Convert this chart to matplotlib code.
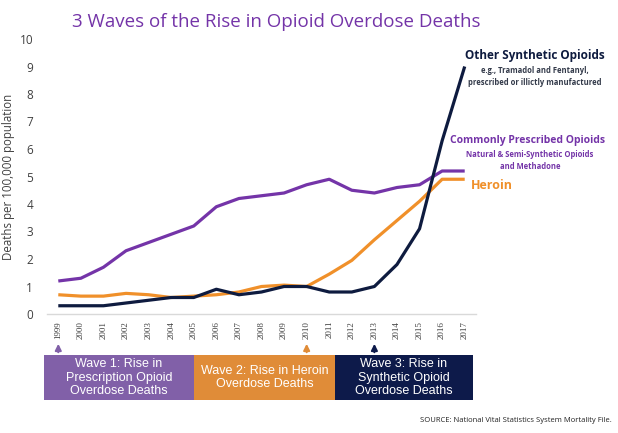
import matplotlib
matplotlib.use("Agg")
import matplotlib.pyplot as plt
from matplotlib.patches import Rectangle, FancyArrowPatch

years = list(range(1999, 2018))
prescribed = [1.2, 1.3, 1.7, 2.3, 2.6, 2.9, 3.2, 3.9, 4.2, 4.3, 4.4, 4.7, 4.9, 4.5, 4.4, 4.6, 4.7, 5.2, 5.2]
heroin = [0.7, 0.65, 0.65, 0.75, 0.7, 0.6, 0.65, 0.7, 0.8, 1.0, 1.05, 1.0, 1.45, 1.95, 2.7, 3.4, 4.1, 4.9, 4.9]
synthetic = [0.3, 0.3, 0.3, 0.4, 0.5, 0.6, 0.6, 0.9, 0.7, 0.8, 1.0, 1.0, 0.8, 0.8, 1.0, 1.8, 3.1, 6.3, 9.0]

wave_labels = ["Wave 1: Rise in\nPrescription Opioid\nOverdose Deaths",
               "Wave 2: Rise in Heroin\nOverdose Deaths",
               "Wave 3: Rise in\nSynthetic Opioid\nOverdose Deaths"]
wave_years = [1999, 2010, 2013]

PURPLE = "#7434A8"
ORANGE = "#F0902A"
NAVY = "#0E1B3F"
BOX_PURPLE = "#8160A8"
BOX_ORANGE = "#E08C38"
BOX_NAVY = "#0D1A4A"

W, H = 618, 433
fig = plt.figure(figsize=(W / 100, H / 100), dpi=100)
fig.patch.set_facecolor("white")

ax = fig.add_axes([47 / W, (H - 314) / H, 429 / W, 275 / H])
ax.plot(years, prescribed, color=PURPLE, lw=2.3, solid_capstyle="butt")
ax.plot(years, heroin, color=ORANGE, lw=2.3, solid_capstyle="butt")
ax.plot(years, synthetic, color=NAVY, lw=2.3, solid_capstyle="butt")
ax.set_xlim(1998.5, 2017.5)
ax.set_ylim(0, 10)
ax.set_yticks(range(0, 11))
ax.set_xticks(years)
ax.set_xticklabels([str(y) for y in years], rotation=90, fontsize=6.5,
                   family="Liberation Serif", color="#404040")
ax.tick_params(axis="y", length=0, pad=10, labelsize=8.5, labelcolor="#404040")
ax.tick_params(axis="x", length=0, pad=5)
for lab in ax.get_yticklabels():
    lab.set_family("Open Sans")
for s in ["top", "right", "left"]:
    ax.spines[s].set_visible(False)
ax.spines["bottom"].set_color("#D9D9D9")
ax.spines["bottom"].set_linewidth(1)
ax.set_ylabel("Deaths per 100,000 population", fontsize=8.3, family="Open Sans",
              color="#404040", labelpad=4)
ax.yaxis.set_label_coords(-0.075, 0.5)

fig.text(72 / W, 1 - 22 / H, "3 Waves of the Rise in Opioid Overdose Deaths",
         fontsize=13.5, family="Open Sans", color=PURPLE, va="center", ha="left")

# series labels
fig.text(535 / W, 1 - 56 / H, "Other Synthetic Opioids", fontsize=8.5, weight="bold",
         family="Open Sans", color=NAVY, ha="center", va="center")
fig.text(535 / W, 1 - 76.5 / H, "e.g., Tramadol and Fentanyl,\nprescribed or illictly manufactured",
         fontsize=5.5, weight="bold", family="Open Sans", color="#333A4A", ha="center",
         va="center", linespacing=1.35)
fig.text(528 / W, 1 - 140 / H, "Commonly Prescribed Opioids", fontsize=7.5, weight="bold",
         family="Open Sans", color=PURPLE, ha="center", va="center")
fig.text(530 / W, 1 - 160.5 / H, "Natural & Semi-Synthetic Opioids\nand Methadone",
         fontsize=5.5, weight="bold", family="Open Sans", color=PURPLE, ha="center",
         va="center", linespacing=1.35)
fig.text(471 / W, 1 - 185 / H, "Heroin", fontsize=9, weight="bold",
         family="Open Sans", color=ORANGE, ha="left", va="center")

# wave boxes
boxes = [(44, 194, BOX_PURPLE), (194, 335, BOX_ORANGE), (335, 473, BOX_NAVY)]
for (x0, x1, c), lab in zip(boxes, wave_labels):
    fig.patches.append(Rectangle((x0 / W, 1 - 400 / H), (x1 - x0) / W, 45 / H,
                                 transform=fig.transFigure, facecolor=c,
                                 edgecolor="none", zorder=1))
    fig.text((x0 + x1) / 2 / W, 1 - 377.5 / H, lab, fontsize=9, family="Liberation Sans",
             color="white", ha="center", va="center", linespacing=1.15)

arrow_colors = [BOX_PURPLE, BOX_ORANGE, BOX_NAVY]
for yr, c in zip(wave_years, arrow_colors):
    xd = ax.transData.transform((yr, 0))[0]
    xf = fig.transFigure.inverted().transform((xd, 0))[0]
    fig.patches.append(FancyArrowPatch((xf, 1 - 355 / H), (xf, 1 - 341 / H),
                                       transform=fig.transFigure, arrowstyle="-|>",
                                       mutation_scale=9, color=c, lw=1.5))

fig.text(612 / W, 1 - 421 / H, "SOURCE: National Vital Statistics System Mortality File.",
         fontsize=5.5, family="Open Sans", color="#222222", ha="right", va="center")

fig.savefig("out.png", dpi=100, facecolor="white")
